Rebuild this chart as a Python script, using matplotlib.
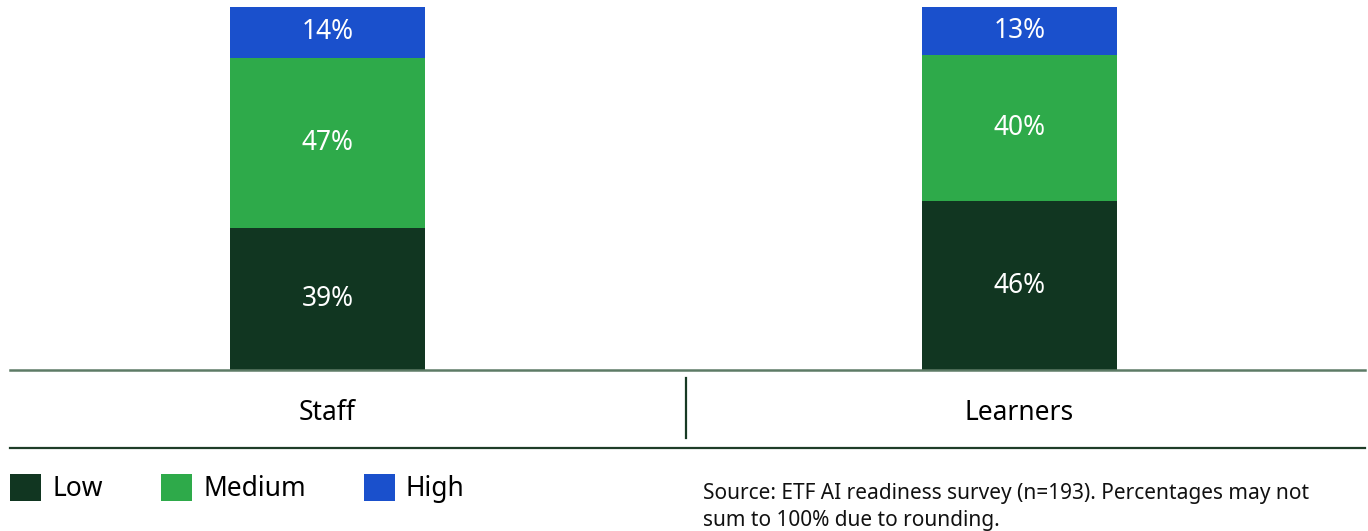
import numpy as np
import matplotlib
matplotlib.use("Agg")
import matplotlib.pyplot as plt
from matplotlib.patches import Patch
from matplotlib.lines import Line2D

plt.rcParams["font.family"] = ["Noto Sans", "DejaVu Sans"]

# ── Data ──────────────────────────────────────────────────────────────
groups  = ["Staff", "Learners"]
levels  = ["Low", "Medium", "High"]
low     = [39, 46]
medium  = [47, 40]
high    = [14, 13]
colors  = ["#113621", "#2eaa4a", "#1a50cc"]
source  = ("Source: ETF AI readiness survey (n=193). Percentages may not\n"
           "sum to 100% due to rounding.")

W, H = 1368, 531
fig = plt.figure(figsize=(W / 100, H / 100), dpi=100)

def fx(px):
    return px / W

def fy(py):
    return 1 - py / H

# main axes: baseline at y=370, 100% at y=7
ax = fig.add_axes([fx(10), fy(370), fx(1355), (370 - 7) / H])
x = np.arange(len(groups))
width = 195 / 692

# 100% stacked: each bar scaled to its own total
raw    = np.array([low, medium, high], dtype=float)
totals = raw.sum(axis=0)
shares = raw / totals * 100

bottom = np.zeros(len(groups))
for vals, pct, col in zip(raw, shares, colors):
    ax.bar(x, pct, width, bottom=bottom, color=col, linewidth=0)
    for xi, b, p, v in zip(x, bottom, pct, vals):
        ax.text(xi, b + p / 2, f"{int(v)}%", ha="center", va="center",
                color="white", fontsize=19)
    bottom += pct

ax.set_xlim(-317.5 / 692, 1 + 345.5 / 692)
ax.set_ylim(0, 100)
for s in ["top", "right", "left"]:
    ax.spines[s].set_visible(False)
ax.spines["bottom"].set_color("#5d7b66")
ax.spines["bottom"].set_linewidth(1.8)
ax.set_yticks([])
ax.set_xticks(x)
ax.set_xticklabels(groups, fontsize=19)
ax.tick_params(axis="x", length=0, pad=21)

# separator and bottom rule
fig.add_artist(Line2D([fx(686), fx(686)], [fy(378), fy(438)],
                      color="#173a24", linewidth=1.6))
fig.add_artist(Line2D([fx(10), fx(1365)], [fy(448), fy(448)],
                      color="#1e3d28", linewidth=1.6))

# legend
handles = [Patch(facecolor=c, edgecolor="none") for c in colors]
fig.legend(handles, levels, loc="upper left", ncol=3, frameon=False,
           bbox_to_anchor=(fx(10), fy(474)), borderaxespad=0, borderpad=0,
           fontsize=19, handlelength=1.18, handleheight=1.18,
           handletextpad=0.42, columnspacing=2.2)

fig.text(fx(703), fy(483), source, ha="left", va="top", fontsize=15,
         linespacing=1.38, color="#111111")

plt.savefig("out.png", dpi=100)
